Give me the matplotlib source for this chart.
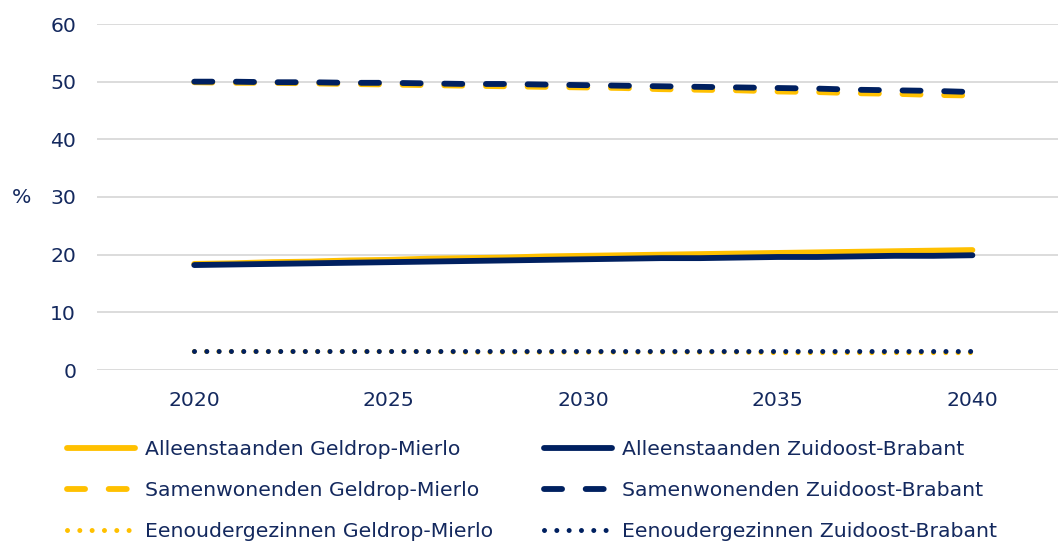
import matplotlib.pyplot as plt

jaren = list(range(2020, 2041))

# huishoudenssamenstelling in procenten
alleen_gm = [18.4, 18.5, 18.7, 18.8, 19.0, 19.1, 19.3, 19.4, 19.5, 19.7, 19.8,
             19.9, 20.0, 20.1, 20.2, 20.3, 20.4, 20.5, 20.6, 20.7, 20.8]
alleen_zb = [18.2, 18.3, 18.4, 18.5, 18.6, 18.7, 18.8, 18.9, 19.0, 19.1, 19.2,
             19.3, 19.4, 19.4, 19.5, 19.6, 19.6, 19.7, 19.8, 19.8, 19.9]
samen_gm = [49.9, 49.8, 49.8, 49.7, 49.6, 49.5, 49.4, 49.3, 49.2, 49.1, 49.0,
            48.9, 48.7, 48.6, 48.5, 48.3, 48.2, 48.0, 47.9, 47.7, 47.6]
samen_zb = [50.0, 50.0, 49.9, 49.9, 49.8, 49.8, 49.7, 49.6, 49.6, 49.5, 49.4,
            49.3, 49.2, 49.1, 49.0, 48.9, 48.8, 48.6, 48.5, 48.4, 48.2]
een_gm = [3.2, 3.2, 3.2, 3.2, 3.2, 3.2, 3.2, 3.1, 3.1, 3.1, 3.1,
          3.1, 3.1, 3.1, 3.1, 3.0, 3.0, 3.0, 3.0, 3.0, 3.0]
een_zb = [3.3, 3.3, 3.3, 3.3, 3.3, 3.3, 3.3, 3.3, 3.3, 3.3, 3.3,
          3.3, 3.3, 3.3, 3.3, 3.3, 3.3, 3.3, 3.3, 3.3, 3.3]

geel = '#FFC000'
blauw = '#002060'
tekst = '#14295e'
fs = 14.7

plt.rcParams['font.family'] = ['DejaVu Sans']
plt.rcParams['lines.scale_dashes'] = False

fig = plt.figure(figsize=(10.58, 5.42), dpi=100)
ax = fig.add_axes([97 / 1058, 172 / 542, 1 - 97 / 1058, 346 / 542])

lw = 4.2
lw_punt = 3.6
streep = (0, (13, 17))
punt = (0, (0.01, 8.86))

ax.plot(jaren, alleen_gm, color=geel, lw=lw, solid_capstyle='round',
        label='Alleenstaanden Geldrop-Mierlo')
ax.plot(jaren, samen_gm, color=geel, lw=lw, linestyle=streep, dash_capstyle='round',
        label='Samenwonenden Geldrop-Mierlo')
ax.plot(jaren, een_gm, color=geel, lw=lw_punt, linestyle=punt, dash_capstyle='round',
        label='Eenoudergezinnen Geldrop-Mierlo')
ax.plot(jaren, alleen_zb, color=blauw, lw=lw, solid_capstyle='round',
        label='Alleenstaanden Zuidoost-Brabant')
ax.plot(jaren, samen_zb, color=blauw, lw=lw, linestyle=streep, dash_capstyle='round',
        label='Samenwonenden Zuidoost-Brabant')
ax.plot(jaren, een_zb, color=blauw, lw=lw_punt, linestyle=punt, dash_capstyle='round',
        label='Eenoudergezinnen Zuidoost-Brabant')

ax.set_ylim(0, 60)
ax.set_xlim(2017.5, 2042.2)
ax.set_yticks(range(0, 61, 10))
ax.set_xticks(range(2020, 2041, 5))
ax.grid(axis='y', color='#d9d9d9', lw=1.3)
ax.set_axisbelow(True)
for s in ax.spines.values():
    s.set_visible(False)
ax.tick_params(length=0, labelsize=fs, labelcolor=tekst)
ax.tick_params(axis='y', pad=15)
ax.tick_params(axis='x', pad=15)

fig.text(22 / 1058, 1 - 198 / 542, '%', fontsize=fs, color=tekst, ha='center', va='center')

leg = fig.legend(loc='upper left', bbox_to_anchor=(59 / 1058, 1 - 432 / 542), ncol=2,
                 frameon=False, fontsize=fs, handlelength=3.33, handletextpad=0.49,
                 columnspacing=2.5, labelspacing=1.08, borderaxespad=0)
for t in leg.get_texts():
    t.set_color(tekst)

fig.savefig('out.png', dpi=100)
